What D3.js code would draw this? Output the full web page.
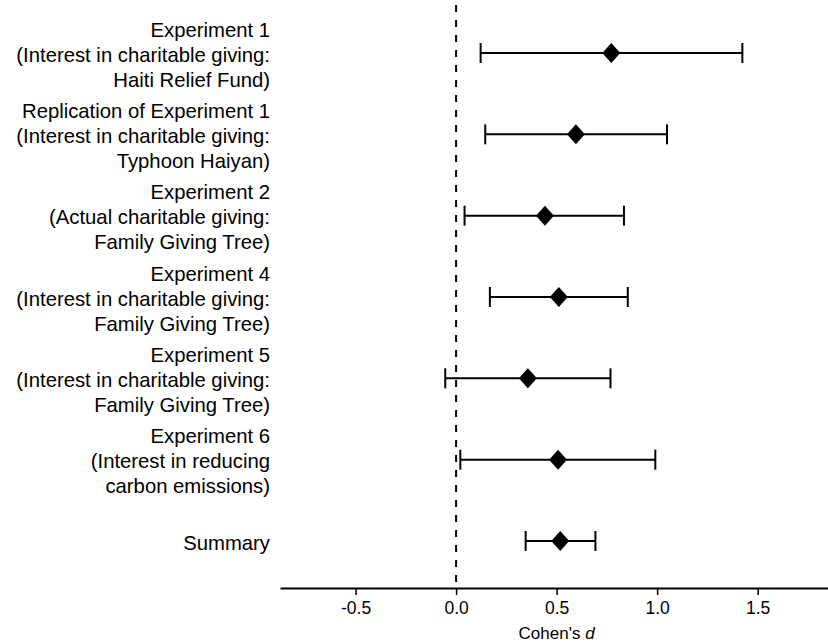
<!DOCTYPE html>
<html>
<head>
<meta charset="utf-8">
<script src="https://cdn.jsdelivr.net/npm/d3@7/dist/d3.min.js"></script>
<style>
  html, body { margin: 0; padding: 0; background: #fff; }
  svg { display: block; font-family: Arial, "Liberation Sans", sans-serif; }
</style>
</head>
<body>
<svg id="chart" width="828" height="642"></svg>
<script>
const studies = [
  ["Experiment 1", "(Interest in charitable giving:", "Haiti Relief Fund)"],
  ["Replication of Experiment 1", "(Interest in charitable giving:", "Typhoon Haiyan)"],
  ["Experiment 2", "(Actual charitable giving:", "Family Giving Tree)"],
  ["Experiment 4", "(Interest in charitable giving:", "Family Giving Tree)"],
  ["Experiment 5", "(Interest in charitable giving:", "Family Giving Tree)"],
  ["Experiment 6", "(Interest in reducing", "carbon emissions)"],
  ["Summary"]
];
const effect = [0.772, 0.596, 0.442, 0.511, 0.357, 0.507, 0.518];
const lower  = [0.122, 0.145, 0.042, 0.168, -0.054, 0.021, 0.346];
const upper  = [1.424, 1.049, 0.835, 0.854, 0.768, 0.991, 0.693];
const xTicks = [-0.5, 0.0, 0.5, 1.0, 1.5];
const xTickLabels = ["-0.5", "0.0", "0.5", "1.0", "1.5"];
const xTitle = "Cohen's ";
const xTitleItalic = "d";

const svg = d3.select("#chart");
const plotLeft = 280, plotRight = 828, axisY = 588;

const x = d3.scaleLinear().domain([-0.876, 1.85]).range([plotLeft, plotRight]);
const y = d3.scaleLinear().domain([0, 6]).range([53, 541]);

// reference line at 0
svg.append("line")
  .attr("x1", x(0)).attr("x2", x(0))
  .attr("y1", 5).attr("y2", axisY)
  .attr("stroke", "#000").attr("stroke-width", 2)
  .attr("stroke-dasharray", "7,8");

// axis
const axis = d3.axisBottom(x).tickValues(xTicks)
  .tickFormat((d, i) => xTickLabels[i]).tickSize(7).tickSizeOuter(0);
const gx = svg.append("g").attr("transform", `translate(0,${axisY})`).call(axis);
gx.select(".domain").attr("stroke", "#000").attr("stroke-width", 2);
gx.selectAll(".tick line").attr("stroke", "#000").attr("stroke-width", 1.5);
gx.selectAll(".tick text").attr("fill", "#000").attr("font-size", 17.5)
  .attr("font-family", "Arial, 'Liberation Sans', sans-serif")
  .attr("y", 26).attr("dy", 0);

const t = svg.append("text").attr("x", x(0.5)).attr("y", 639)
  .attr("text-anchor", "middle").attr("font-size", 17).attr("fill", "#000");
t.append("tspan").text(xTitle);
t.append("tspan").attr("font-style", "italic").text(xTitleItalic);

// rows
const rows = svg.append("g").selectAll("g").data(studies).join("g")
  .attr("transform", (d, i) => `translate(0,${y(i)})`);

rows.append("line")
  .attr("x1", (d, i) => x(lower[i])).attr("x2", (d, i) => x(upper[i]))
  .attr("stroke", "#000").attr("stroke-width", 2);
rows.append("line")
  .attr("x1", (d, i) => x(lower[i])).attr("x2", (d, i) => x(lower[i]))
  .attr("y1", -10).attr("y2", 10).attr("stroke", "#000").attr("stroke-width", 2);
rows.append("line")
  .attr("x1", (d, i) => x(upper[i])).attr("x2", (d, i) => x(upper[i]))
  .attr("y1", -10).attr("y2", 10).attr("stroke", "#000").attr("stroke-width", 2);
rows.append("path")
  .attr("d", (d, i) => { const cx = x(effect[i]); return `M${cx},-10L${cx+9},0L${cx},10L${cx-9},0Z`; })
  .attr("fill", "#000");

// labels
const lineH = 25;
rows.append("text")
  .attr("text-anchor", "end").attr("font-size", 20.3).attr("fill", "#000")
  .each(function(d) {
    const n = d.length;
    d3.select(this).selectAll("tspan").data(d).join("tspan")
      .attr("x", 270)
      .attr("y", (s, j) => (j - (n - 1) / 2) * lineH + 8.5)
      .text(s => s);
  });
</script>
</body>
</html>
